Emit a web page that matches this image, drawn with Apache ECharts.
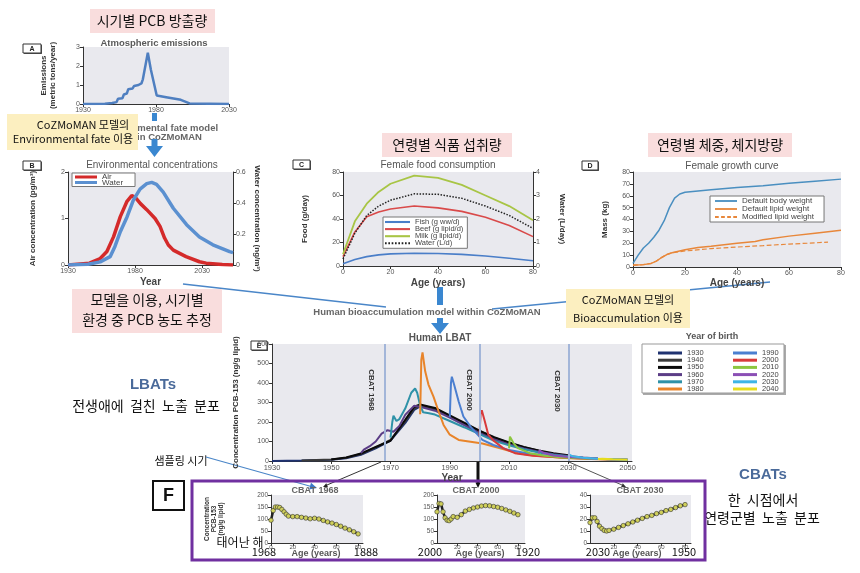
<!DOCTYPE html>
<html><head><meta charset="utf-8">
<script src="https://cdn.jsdelivr.net/npm/echarts@6/dist/echarts.min.js"></script>
<style>html,body{margin:0;padding:0;background:#fff}#c{width:860px;height:573px}</style>
</head><body><div id="c"></div>
<script>
// ---------- DATA ----------
// A: atmospheric emissions [year, metric tons/year]
const emissions = [[1930,0],[1945,0.01],[1950,0.05],[1953,0.1],[1954,0.28],[1957,0.3],[1958,0.5],[1960,0.55],[1961,0.78],[1964,0.82],[1965,0.95],[1968,1.0],[1970,1.08],[1971,1.3],[1974.4,2.7],[1976.5,1.8],[1980.5,0.45],[1987,0.36],[1997,0.22],[2003,0.03],[2030,0]];
// B: environmental concentrations
const airConc = [[1930,0],[1946,0.04],[1954,0.14],[1959,0.29],[1964,0.61],[1969,1.04],[1974,1.37],[1977.5,1.49],[1980,1.46],[1984,1.32],[1988.7,1.19],[1994.9,1.0],[1998.6,0.83],[2002,0.58],[2004.8,0.43],[2008.5,0.32],[2018,0.18],[2028,0.07],[2033,0.04],[2045,0.01],[2053,0]];
const waterConc = [[1930,0],[1945,0.005],[1954,0.02],[1961.4,0.054],[1965,0.12],[1969,0.215],[1974,0.31],[1978.8,0.42],[1983.7,0.49],[1988.7,0.525],[1992.4,0.533],[1996,0.52],[2001,0.47],[2008.5,0.366],[2018.4,0.26],[2028,0.18],[2038,0.13],[2050.5,0.086],[2053,0.08]];
// C: female food consumption by age
const foodAges = [0,5,10,15,20,30,40,50,60,70,80];
const fish = [2,5.5,8,9.5,10.3,10.8,10.7,9.9,8.5,6.6,4.5];
const beef = [8,29,42,46,48.5,51,49.5,46.5,41.5,34.5,25];
const milk = [10,38,53,63,70,77,75,69,60,51,39];
const waterIntake = [0.3,1.4,2.15,2.55,2.8,3.07,3.05,2.88,2.55,2.15,1.6];
// D: female growth curve [age, kg]
const bodyWeight = [[0,3],[2,10],[4,16],[6,20],[8,25],[10,31],[12,39],[14,50],[16,58],[18,61.5],[20,63],[30,65],[40,67],[50,68.5],[60,70.5],[70,72.3],[80,74]];
const lipidWeight = [[0,1.5],[4,2],[7,3],[9,5],[11,8],[13,10.5],[15,12],[20,14.5],[25,16.5],[30,17.5],[40,20],[47,21.5],[50,23],[60,26],[70,28.5],[80,31]];
const modLipidWeight = [[0,1.5],[4,2],[7,3],[9,5],[11,8],[13,10.5],[15,12],[20,13.5],[30,15.5],[40,16.8],[50,18],[60,19.3],[70,20.3],[75,21]];
// E: human LBAT by year of birth [year, ng/g lipid]
const birthYears = ['1930','1940','1950','1960','1970','1980','1990','2000','2010','2020','2030','2040'];
const c1930 = [[1930,0],[1940,2],[1950,7],[1955,14],[1960,32],[1965,65],[1970,105],[1975,195],[1978,262],[1980,280],[1985,265],[1990,228],[1995,188],[2000,150],[2005,117],[2010,90]];
const c1940 = [[1940,2],[1950,8],[1955,16],[1960,36],[1965,70],[1970,108],[1975,205],[1978,270],[1980,284],[1985,268],[1990,230],[1995,192],[2000,154],[2005,120],[2010,93],[2015,71],[2020,53]];
const c1950 = [[1950,8],[1955,18],[1960,38],[1965,72],[1970,104],[1975,212],[1978,278],[1980,290],[1985,272],[1990,234],[1995,196],[2000,156],[2005,122],[2010,95],[2015,72],[2020,54],[2025,40],[2030,30]];
const c1960 = [[1960,40],[1961,58],[1963,76],[1965,100],[1967,140],[1969,158],[1971,150],[1973,180],[1975,238],[1978,283],[1980,278],[1985,258],[1990,222],[1995,183],[2000,143],[2005,110],[2010,85],[2015,64],[2020,47],[2025,35],[2030,26],[2035,18],[2040,13]];
const c1970 = [[1970,120],[1970.6,200],[1971,232],[1972,205],[1973,215],[1975,270],[1977,350],[1978.3,372],[1979,350],[1980,285],[1981,250],[1983,245],[1985,238],[1990,205],[1995,172],[2000,138],[2005,103],[2010,80],[2015,60],[2020,44],[2025,32],[2030,23],[2035,16],[2040,11],[2045,8],[2050,6]];
const c1980 = [[1980,240],[1980.4,520],[1980.8,557],[1981.7,460],[1982.8,392],[1984.5,330],[1986.2,255],[1987.9,185],[1990,135],[1993,108],[1997,99],[2001,90],[2007,65],[2013,40],[2019,27],[2029,15],[2040,9],[2050,5]];
const c1990 = [[1990,225],[1990.4,400],[1990.7,432],[1991.5,390],[1993,305],[1994.6,228],[1997,176],[1999.4,135],[2001,108],[2004.7,82],[2010,56],[2016,40],[2023,27],[2029,21],[2040,12],[2050,7]];
const c2000 = [[2000,130],[2000.4,240],[2000.8,260],[2001.8,205],[2003,135],[2004.5,108],[2008,66],[2012,40],[2018,27],[2029,17],[2040,10],[2050,6]];
const c2010 = [[2010,65],[2010.3,125],[2010.6,133],[2011.5,92],[2013,66],[2017,40],[2022,27],[2028,18],[2040,10],[2050,6]];
const c2020 = [[2020,38],[2020.3,55],[2020.6,61],[2021.5,42],[2025,28],[2030,20],[2040,11],[2050,6]];
const c2030 = [[2030,20],[2030.5,32],[2031.5,24],[2035,17],[2040,12],[2050,7]];
const c2040 = [[2040,10],[2040.5,16],[2041.5,12],[2045,9],[2050,7]];
const cohortColors = ['#1f3270','#3a3a3a','#0a0a0a','#5b3d86','#2f92a8','#e8842a','#4b7fd0','#d83a3a','#8cc63f','#8b4fb5','#3fb5e5','#e6dc1e'];
const cbatYears = [1968, 2000, 2030];
// F: CBATs by age
const fAges = [0,2,4,6,8,10,12,14,16,20,24,28,32,36,40,44,48,52,56,60,64,68,72,76,80];
const cbat1968 = [95,135,150,150,148,140,130,120,112,110,110,107,104,101,103,100,94,88,83,77,70,62,55,47,38];
const cbat2000 = [130,165,163,130,105,95,93,100,110,107,118,133,140,146,150,154,156,155,152,149,144,138,132,125,118];
const cbat2030 = [17,21,21,18,14,12,10.5,10,10.5,11.5,13,14.5,16,17.5,19,20.5,22,23,24.5,25.5,27,28,29.5,31,32];
// tick labels
const ticksA = [1930,1980,2030];
const ticksE = [1930,1950,1970,1990,2010,2030,2050];
const ticksAge = [0,20,40,60,80];
const ticksAgeF23 = [20,40,60,80];

// ---------- STYLE HELPERS ----------
const NARROW = '"Liberation Sans Narrow","Liberation Sans",sans-serif';
const SANS = '"Liberation Sans",Arial,sans-serif';
const KR = '"Noto Sans CJK KR",sans-serif';
const BG = '#e9e9ee';
const plain = v => String(v);
function grid(l,t,w,h){return {left:l,top:t,width:w,height:h,show:true,backgroundColor:BG,borderWidth:0};}
function xAx(gi,min,max,ticks,name,gap,fs,mg){
  return {type:'value',gridIndex:gi,min:min,max:max,
    axisLine:{show:true,onZero:false,lineStyle:{color:'#333',width:1}},
    axisTick:{show:true,length:3,customValues:ticks,lineStyle:{color:'#333'}},
    axisLabel:{customValues:ticks,formatter:plain,fontSize:fs||7,color:'#555',fontFamily:SANS,margin:mg===undefined?3:mg},
    splitLine:{show:false},
    name:name||'',nameLocation:'middle',nameGap:gap,
    nameTextStyle:{fontFamily:SANS,fontWeight:'bold',fontSize:10,color:'#444'}};
}
function yAx(gi,min,max,interval,name,gap,pos,fs,nfs){
  return {type:'value',gridIndex:gi,min:min,max:max,interval:interval,position:pos||'left',
    axisLine:{show:true,onZero:false,lineStyle:{color:'#333',width:1}},
    axisTick:{show:true,length:3,lineStyle:{color:'#333'}},
    axisLabel:{formatter:plain,fontSize:fs||7,color:'#555',fontFamily:SANS,margin:3},
    splitLine:{show:false},
    name:name||'',nameLocation:'middle',nameGap:gap||25,nameRotate:pos==='right'?-90:90,
    nameTextStyle:{fontFamily:NARROW,fontWeight:'bold',fontSize:nfs||8,color:'#333',lineHeight:(nfs||8)+0.5}};
}
function ln(name,xi,yi,data,color,width,type){
  return {type:'line',name:name,xAxisIndex:xi,yAxisIndex:yi,data:data,symbol:'none',silent:true,
    lineStyle:{color:color,width:width,type:type||'solid'},itemStyle:{color:color}};
}
function zip(a,b){return a.map((v,i)=>[v,b[i]]);}
function dashPath(on,off){
  let p='path://';
  for(let x=0;x<24;x+=on+off){p+='M'+x+',0h'+Math.min(on,24-x)+'v2h-'+Math.min(on,24-x)+'z';}
  return p;
}
const ICON_SOLID='path://M0,0H24V2H0Z', ICON_DOT=dashPath(1.6,1.6), ICON_DASH=dashPath(4,2.5);

const series = [
  ln('Emissions',0,0,emissions,'#4f7fc0',2.5),
  ln('Air',1,1,airConc,'#d42a2a',3.5),
  ln('Water',1,2,waterConc,'#5b90d0',3.5),
  ln('Fish (g ww/d)',2,3,zip(foodAges,fish),'#4a7ec8',1.6),
  ln('Beef (g lipid/d)',2,3,zip(foodAges,beef),'#d94a4a',1.6),
  ln('Milk (g lipid/d)',2,3,zip(foodAges,milk),'#a8c545',1.8),
  ln('Water (L/d)',2,4,zip(foodAges,waterIntake),'#222',1.5,'dotted'),
  ln('Default body weight',3,5,bodyWeight,'#4a8fc0',1.5),
  ln('Default lipid weight',3,5,lipidWeight,'#e8873a',1.5),
  ln('Modified lipid weight',3,5,modLipidWeight,'#e8873a',1.2,'dashed')
];
const cohorts = [c1930,c1940,c1950,c1960,c1970,c1980,c1990,c2000,c2010,c2020,c2030,c2040];
cohorts.forEach((d,i)=>{
  const s = ln(birthYears[i],4,6,d,cohortColors[i],2);
  if(i===0){
    s.markLine = {silent:true,symbol:'none',label:{show:false},
      lineStyle:{color:'#a3b6d9',width:2,type:'solid'},
      data:cbatYears.map(y=>({xAxis:y}))};
  }
  series.push(s);
});
function fser(name,xi,yi,vals){
  return {type:'line',name:name,xAxisIndex:xi,yAxisIndex:yi,data:zip(fAges,vals),silent:true,
    symbol:'circle',symbolSize:4.5,lineStyle:{color:'#222',width:2.5},
    itemStyle:{color:'#cfcf5a',borderColor:'#333',borderWidth:0.6}};
}
series.push(fser('CBAT 1968',5,7,cbat1968));
series.push(fser('CBAT 2000',6,8,cbat2000));
series.push(fser('CBAT 2030',7,9,cbat2030));

// ---------- GRAPHICS (annotations) ----------
function txt(x,y,s,font,fill,align,rot){
  return {type:'text',x:x,y:y,rotation:rot||0,silent:true,
    style:{text:s,font:font,fill:fill||'#000',align:align||'center',verticalAlign:'middle'}};
}
function rect(x,y,w,h,fill,stroke,lw){
  const st={fill:fill||'none'};
  if(stroke){st.stroke=stroke;st.lineWidth=lw||1;}
  return {type:'rect',silent:true,shape:{x:x,y:y,width:w,height:h},style:st};
}
function line(x1,y1,x2,y2,c,w){
  return {type:'line',silent:true,shape:{x1:x1,y1:y1,x2:x2,y2:y2},style:{stroke:c,lineWidth:w}};
}
function poly(pts,fill){return {type:'polygon',silent:true,shape:{points:pts},style:{fill:fill}};}
function letterBox(x,y,w,h,l){
  return [rect(x+1,y+1,w,h,'#555'),rect(x,y,w,h,'#fff','#333',1),txt(x+w/2,y+h/2+0.5,l,'bold 7px '+SANS,'#222')];
}
function arrowHead(x,y,ang,c,s){
  const a1=ang+Math.PI-0.45,a2=ang+Math.PI+0.45;
  return poly([[x,y],[x+s*Math.cos(a1),y+s*Math.sin(a1)],[x+s*Math.cos(a2),y+s*Math.sin(a2)]],c);
}
const G = [];
G.push(rect(90,9,125,24,'#f9dddd'));
G.push(txt(152,21,'시기별 PCB 방출량','14px '+KR,'#111'));
G.push(rect(382,133,130,24,'#f9dddd'));
G.push(txt(447,145,'연령별 식품 섭취량','14px '+KR,'#111'));
G.push(rect(648,133,144,24,'#f9dddd'));
G.push(txt(720,145,'연령별 체중, 체지방량','14px '+KR,'#111'));
G.push(txt(154,43,'Atmospheric emissions','bold 9.5px '+SANS,'#5a5a5a'));
G.push(txt(152,165,'Environmental concentrations','10px '+SANS,'#555'));
G.push(txt(438,165,'Female food consumption','10px '+SANS,'#555'));
G.push(txt(732,166,'Female growth curve','10px '+SANS,'#555'));
G.push(txt(440,338,'Human LBAT','bold 10px '+SANS,'#555'));
G.push(txt(712,337,'Year of birth','bold 9px '+SANS,'#555'));
letterBox(23,44,18,9,'A').forEach(e=>G.push(e));
letterBox(23,161,18,9,'B').forEach(e=>G.push(e));
letterBox(293,160,17,9,'C').forEach(e=>G.push(e));
letterBox(582,161,16,9,'D').forEach(e=>G.push(e));
letterBox(251,341,16,9,'E').forEach(e=>G.push(e));
G.push(rect(152,113,5,8,'#3a87d0'));
G.push(txt(160,128,'Environmental fate model','bold 9.5px '+SANS,'#666'));
G.push(txt(160,137,'within CoZMoMAN','bold 9.5px '+SANS,'#666'));
G.push(poly([[151.5,139],[157.5,139],[157.5,146],[163,146],[154.5,157],[146,146],[151.5,146]],'#3a87d0'));
G.push(rect(7,114,131,36,'#fcefc0'));
G.push(txt(83,125,'CoZMoMAN 모델의','11px '+KR,'#111'));
G.push(txt(73,139,'Environmental fate 이용','11px '+KR,'#111'));
G.push(line(183,284,386,307,'#4a86c8',1.6));
G.push(line(492,309,770,282,'#4a86c8',1.6));
G.push(rect(72,289,150,44,'#f9dddd'));
G.push(txt(147,300,'모델을 이용, 시기별','14px '+KR,'#111'));
G.push(txt(147,320,'환경 중 PCB 농도 추정','14px '+KR,'#111'));
G.push(txt(427,312,'Human bioaccumulation model within CoZMoMAN','bold 9.5px '+SANS,'#666'));
G.push(rect(437,287,6,18,'#3a87d0'));
G.push(poly([[437,318],[443,318],[443,323],[449,323],[440,334],[431,323],[437,323]],'#3a87d0'));
G.push(rect(566,289,124,39,'#fcefc0'));
G.push(txt(628,300,'CoZMoMAN 모델의','11px '+KR,'#111'));
G.push(txt(628,318,'Bioaccumulation 이용','11px '+KR,'#111'));
G.push(txt(371,390,'CBAT 1968','bold 8px '+NARROW,'#333','center',-Math.PI/2));
G.push(txt(469,390,'CBAT 2000','bold 8px '+NARROW,'#333','center',-Math.PI/2));
G.push(txt(557,391,'CBAT 2030','bold 8px '+NARROW,'#333','center',-Math.PI/2));
G.push(rect(643,345,143,50,'#aaa'));
G.push(rect(642,344,142,49,'#fff','#999',1));
G.push(txt(153,385,'LBATs','bold 15px '+NARROW,'#4a6a9a'));
G.push(txt(146,406,'전생애에  걸친  노출  분포','14px '+KR,'#111'));
G.push(txt(181,461,'샘플링 시기','11px '+KR,'#111'));
G.push(txt(763,475,'CBATs','bold 15px '+NARROW,'#4a6a9a'));
G.push(txt(763,500,'한  시점에서','14px '+KR,'#111'));
G.push(txt(762,518,'연령군별  노출  분포','14px '+KR,'#111'));
G.push(line(206,457,313,487,'#4a86c8',1.2));
G.push(arrowHead(317,488,Math.atan2(31,111),'#3a78c8',8));
G.push(line(381,462,327,485,'#333',1));
G.push(arrowHead(323,487,Math.atan2(25,-58),'#222',5));
G.push(rect(476.5,461,3,22,'#111'));
G.push(arrowHead(478,488,Math.PI/2,'#111',6));
G.push(line(569,462,622,485,'#555',1));
G.push(arrowHead(626,487,Math.atan2(25,57),'#333',5));
G.push(rect(192,481,513,79,'none','#7030a0',3));
G.push(rect(153,481,31,29,'#fff','#111',2));
G.push(txt(168.5,496,'F','bold 18px '+SANS,'#111'));
G.push(txt(315,491,'CBAT 1968','bold 9px '+SANS,'#666'));
G.push(txt(476,491,'CBAT 2000','bold 9px '+SANS,'#666'));
G.push(txt(640,491,'CBAT 2030','bold 9px '+SANS,'#666'));
G.push(txt(316,554,'Age (years)','bold 9px '+SANS,'#555'));
G.push(txt(480,554,'Age (years)','bold 9px '+SANS,'#555'));
G.push(txt(637,554,'Age (years)','bold 9px '+SANS,'#555'));
G.push(txt(240,542,'태어난 해','12px '+KR,'#111'));
G.push(txt(264,552,'1968','11px '+KR,'#111'));
G.push(txt(366,552,'1888','11px '+KR,'#111'));
G.push(txt(430,552,'2000','11px '+KR,'#111'));
G.push(txt(528,552,'1920','11px '+KR,'#111'));
G.push(txt(598,552,'2030','11px '+KR,'#111'));
G.push(txt(684,552,'1950','11px '+KR,'#111'));

const legendBase = {orient:'vertical',selectedMode:false};
const option = {
  animation:false,
  backgroundColor:'#fff',
  grid:[grid(83,47,146,57),grid(68,172,165,93),grid(343,172,190,94),grid(633,172,208,95),
        grid(272,344,360,117),grid(271,495,92,48),grid(437,495,88,48),grid(590,495,101,48)],
  xAxis:[
    xAx(0,1930,2030,ticksA,'',0,7),
    xAx(1,1930,2053,ticksA,'Year',12,7),
    xAx(2,0,80,ticksAge,'Age (years)',12,7),
    xAx(3,0,80,ticksAge,'Age (years)',11,7),
    xAx(4,1930,2051.5,ticksE,'Year',10,7.5),
    xAx(5,0,84.5,ticksAge,'',0,6,1),
    xAx(6,0,87,ticksAgeF23,'',0,6,1),
    xAx(7,0,85,ticksAgeF23,'',0,6,1)
  ],
  yAxis:[
    yAx(0,0,3,1,'Emissions\n(metric tons/year)',26,'left',7),
    yAx(1,0,2,1,'Air concentration (pg/m³)',31,'left',7),
    yAx(1,0,0.6,0.2,'Water concentration (ng/m³)',20,'right',7),
    yAx(2,0,80,20,'Food (g/day)',34,'left',7),
    yAx(2,0,4,1,'Water (L/day)',25,'right',7),
    yAx(3,0,80,10,'Mass (kg)',24,'left',7),
    yAx(4,0,600,100,'Concentration PCB-153 (ng/g lipid)',32,'left',7),
    yAx(5,0,200,50,'Concentration\nPCB-153\n(ng/g lipid)',46,'left',6.5,6.5),
    yAx(6,0,200,50,'',0,'left',6.5),
    yAx(7,0,40,10,'',0,'left',6.5)
  ],
  legend:[
    Object.assign({},legendBase,{data:['Air','Water'],left:72,top:173,icon:'rect',itemWidth:22,itemHeight:3,itemGap:-2.5,
      padding:[0,12,0,3],backgroundColor:'#fff',borderColor:'#777',borderWidth:1,
      textStyle:{fontSize:8,color:'#444',fontFamily:SANS}}),
    Object.assign({},legendBase,{data:[{name:'Fish (g ww/d)',icon:ICON_SOLID},{name:'Beef (g lipid/d)',icon:ICON_SOLID},{name:'Milk (g lipid/d)',icon:ICON_SOLID},{name:'Water (L/d)',icon:ICON_DOT}],
      left:383,top:217,itemWidth:25,itemHeight:2.5,itemGap:-0.9,padding:[1,4,1,2],backgroundColor:'#fff',borderColor:'#777',borderWidth:1,
      textStyle:{fontSize:7.5,color:'#444',fontFamily:SANS}}),
    Object.assign({},legendBase,{data:[{name:'Default body weight',icon:ICON_SOLID},{name:'Default lipid weight',icon:ICON_SOLID},{name:'Modified lipid weight',icon:ICON_DASH}],
      left:710,top:196,itemWidth:22,itemHeight:2,itemGap:0,padding:[1,10,1,5],backgroundColor:'#fff',borderColor:'#777',borderWidth:1,
      textStyle:{fontSize:8,color:'#444',fontFamily:SANS}}),
    Object.assign({},legendBase,{data:birthYears.slice(0,6),left:653,top:344,icon:'rect',itemWidth:24,itemHeight:3,itemGap:-0.8,
      textStyle:{fontSize:7.5,color:'#444',fontFamily:SANS}}),
    Object.assign({},legendBase,{data:birthYears.slice(6),left:728,top:344,icon:'rect',itemWidth:24,itemHeight:3,itemGap:-0.8,
      textStyle:{fontSize:7.5,color:'#444',fontFamily:SANS}})
  ],
  graphic:{elements:G},
  series:series
};
const chart = echarts.init(document.getElementById('c'),null,{renderer:'canvas'});
chart.setOption(option);
</script></body></html>
